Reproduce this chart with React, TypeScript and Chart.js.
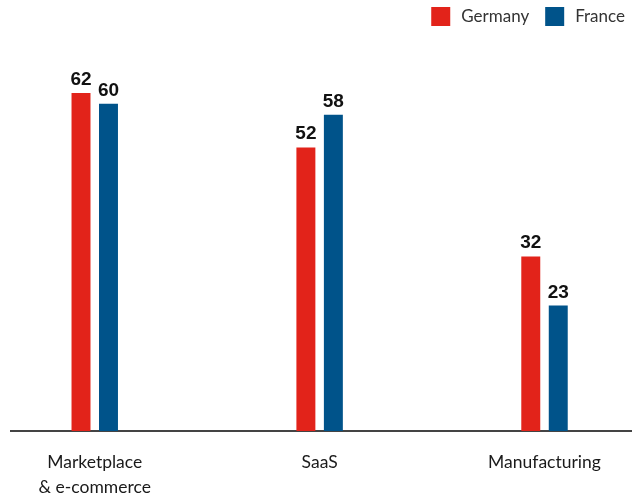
import React, { useEffect, useRef } from "react";
import { Chart, registerables } from "chart.js";

Chart.register(...registerables);

const categories: (string | string[])[] = [["Marketplace", "& e-commerce"], "SaaS", "Manufacturing"];
const seriesNames = ["Germany", "France"];
const germany = [62, 52, 32];
const france = [60, 58, 23];
const colors = ["#e2231a", "#00538a"];

const FONT = "Lato, 'Noto Sans', sans-serif";
const VALUE_FONT = "'Liberation Sans', Arial, sans-serif";

const valueLabels = {
  id: "valueLabels",
  afterDatasetsDraw(chart: any) {
    const ctx = chart.ctx;
    ctx.save();
    ctx.font = `bold 19px ${VALUE_FONT}`;
    ctx.fillStyle = "#111";
    ctx.textAlign = "center";
    ctx.textBaseline = "alphabetic";
    chart.data.datasets.forEach((ds: any, i: number) => {
      const meta = chart.getDatasetMeta(i);
      meta.data.forEach((el: any, j: number) => {
        const v = ds.data[j].y;
        ctx.fillText(String(v), el.x, el.y - 8);
      });
    });
    ctx.restore();
  },
};

const customLegend = {
  id: "customLegend",
  afterDraw(chart: any) {
    const ctx = chart.ctx;
    ctx.save();
    ctx.font = `17px ${FONT}`;
    ctx.textBaseline = "alphabetic";
    const box = 19;
    const gap = 11;
    const itemGap = 16;
    const right = 625;
    const widths = seriesNames.map((n) => box + gap + ctx.measureText(n).width);
    const total = widths.reduce((a, b) => a + b, 0) + itemGap * (seriesNames.length - 1);
    let x = right - total;
    seriesNames.forEach((n, i) => {
      ctx.fillStyle = colors[i];
      ctx.fillRect(x, 7, box, box);
      ctx.fillStyle = "#333";
      ctx.fillText(n, x + box + gap, 22);
      x += widths[i] + itemGap;
    });
    ctx.restore();
  },
};

export default function App() {
  const ref = useRef<HTMLCanvasElement>(null);
  useEffect(() => {
    document.body.style.margin = "0";
    const toPts = (arr: number[]) => arr.map((y, i) => ({ x: i + 1, y }));
    const chart = new Chart(ref.current!, {
      type: "bar",
      data: {
        datasets: [
          { label: seriesNames[0], data: toPts(germany) as any, backgroundColor: colors[0] },
          { label: seriesNames[1], data: toPts(france) as any, backgroundColor: colors[1] },
        ],
      },
      plugins: [valueLabels, customLegend],
      options: {
        animation: false,
        responsive: false,
        maintainAspectRatio: false,
        layout: { padding: { top: 40, left: 11, right: 9, bottom: 0 } },
        datasets: { bar: { categoryPercentage: 0.2444, barPercentage: 0.69 } },
        plugins: { legend: { display: false }, tooltip: { enabled: false } },
        scales: {
          x: {
            type: "linear",
            min: 0.6276,
            max: 3.3846,
            offset: false,
            afterBuildTicks: (scale: any) => {
              scale.ticks = categories.map((_, i) => ({ value: i + 1 }));
            },
            afterFit: (scale: any) => {
              scale.height = 65;
            },
            grid: { display: false, drawTicks: false },
            border: { display: true, color: "#444", width: 2 },
            ticks: {
              autoSkip: false,
              maxRotation: 0,
              padding: 19,
              color: "#1a1a1a",
              font: { family: FONT, size: 17.5, lineHeight: 1.43 },
              callback: (v: any) => categories[Math.round(Number(v)) - 1] as any,
            },
          },
          y: {
            display: false,
            min: 0,
            max: 71.7,
          },
        },
      },
    } as any);
    return () => chart.destroy();
  }, []);
  return (
    <div style={{ width: 640, height: 496 }}>
      <canvas ref={ref} width={640} height={496} style={{ display: "block" }} />
    </div>
  );
}
